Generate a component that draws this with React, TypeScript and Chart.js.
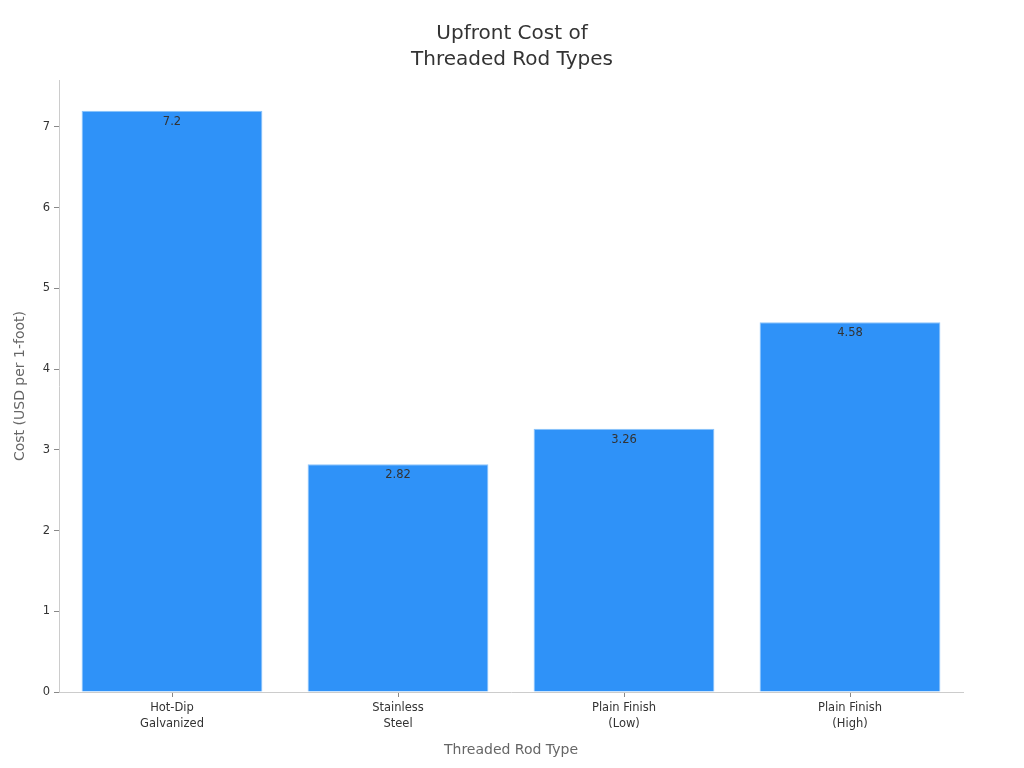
import React, { useEffect, useRef } from "react";
import { Chart, registerables } from "chart.js";

Chart.register(...registerables);

const categories: string[][] = [
  ["Hot-Dip", "Galvanized"],
  ["Stainless", "Steel"],
  ["Plain Finish", "(Low)"],
  ["Plain Finish", "(High)"],
];
const costs: number[] = [7.2, 2.82, 3.26, 4.58];
const titleLines: string[] = ["Upfront Cost of", "Threaded Rod Types"];
const xTitle = "Threaded Rod Type";
const yTitle = "Cost (USD per 1-foot)";
const yMax = 7.58;

const FONT = "'DejaVu Sans', sans-serif";

const textPlugin = {
  id: "textPlugin",
  afterDatasetsDraw(chart: any) {
    const ctx = chart.ctx;
    const area = chart.chartArea;
    ctx.save();
    const meta = chart.getDatasetMeta(0);
    ctx.font = `11.5px ${FONT}`;
    ctx.fillStyle = "#333333";
    ctx.textAlign = "center";
    ctx.textBaseline = "middle";
    meta.data.forEach((bar: any, i: number) => {
      ctx.fillText(String(costs[i]), bar.x, bar.y + 11);
    });
    ctx.font = `20px ${FONT}`;
    ctx.fillStyle = "#333333";
    titleLines.forEach((t, i) => {
      ctx.fillText(t, chart.width / 2, 34 + i * 26);
    });
    ctx.font = `14px ${FONT}`;
    ctx.fillStyle = "#666666";
    ctx.fillText(xTitle, (area.left + area.right) / 2, 750.5);
    ctx.translate(20, (area.top + area.bottom) / 2);
    ctx.rotate(-Math.PI / 2);
    ctx.fillText(yTitle, 0, 0);
    ctx.restore();
  },
};

export default function App() {
  const ref = useRef<HTMLCanvasElement>(null);
  useEffect(() => {
    document.body.style.margin = "0";
    const chart = new Chart(ref.current!, {
      type: "bar",
      data: {
        labels: categories,
        datasets: [
          {
            data: costs,
            backgroundColor: "#2F92F8",
            borderColor: "#8CC4FB",
            borderWidth: 1,
            categoryPercentage: 0.8,
            barPercentage: 1.0,
          },
        ],
      },
      options: {
        animation: false,
        responsive: false,
        devicePixelRatio: 1,
        layout: { padding: { top: 80, right: 61, bottom: 0, left: 0 } },
        plugins: {
          legend: { display: false },
          title: { display: false },
          tooltip: { enabled: false },
        },
        scales: {
          x: {
            afterFit: (s: any) => {
              s.height = 76;
            },
            grid: {
              display: true,
              offset: false,
              drawOnChartArea: false,
              drawTicks: true,
              tickLength: 5,
              color: "#888888",
            },
            border: { display: true, color: "#cccccc" },
            ticks: {
              font: { family: FONT, size: 11.5, lineHeight: 1.4 },
              color: "#333333",
              padding: 3,
            },
          },
          y: {
            min: 0,
            max: yMax,
            afterFit: (s: any) => {
              s.width = 59;
            },
            grid: {
              display: true,
              drawOnChartArea: false,
              drawTicks: true,
              tickLength: 5,
              color: "#888888",
            },
            border: { display: true, color: "#cccccc" },
            ticks: {
              stepSize: 1,
              includeBounds: false,
              font: { family: FONT, size: 11.5 },
              color: "#333333",
              padding: 4,
            },
          },
        },
      },
      plugins: [textPlugin],
    });
    return () => chart.destroy();
  }, []);
  return (
    <div style={{ width: 1024, height: 768, background: "#fff" }}>
      <canvas ref={ref} width={1024} height={768} />
    </div>
  );
}
